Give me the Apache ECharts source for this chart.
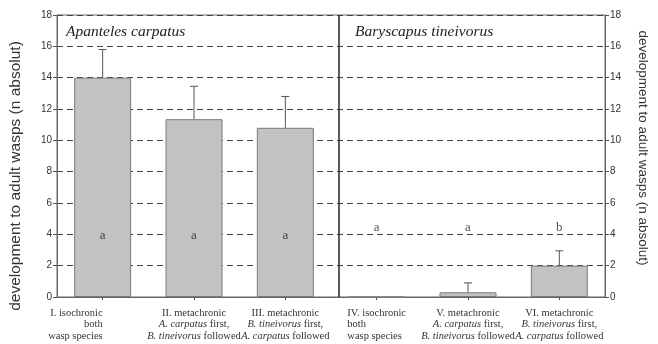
<!DOCTYPE html>
<html><head><meta charset="utf-8">
<script src="https://cdn.jsdelivr.net/npm/echarts@6/dist/echarts.min.js"></script>
<style>html,body{margin:0;padding:0;background:#fff}#c{width:658px;height:344px}</style>
</head><body><div id="c"></div>
<script>
const categories = [
  'I. isochronic\nboth\nwasp species',
  'II. metachronic\nA. carpatus first,\nB. tineivorus followed',
  'III. metachronic\nB. tineivorus first,\nA. carpatus followed',
  'IV. isochronic\nboth\nwasp species',
  'V. metachronic\nA. carpatus first,\nB. tineivorus followed',
  'VI. metachronic\nB. tineivorus first,\nA. carpatus followed'
];
const means = [14.0, 11.35, 10.8, 0, 0.3, 2.0];
const errUp = [1.8, 2.1, 2.0, 0, 0.6, 0.95];
const letters = ['a', 'a', 'a', 'a', 'a', 'b'];
const panelTitles = ['Apanteles carpatus', 'Baryscapus tineivorus'];
const yName = 'development to adult wasps (n absolut)';

const lineAlign = ['r', 'c', 'c', 'l', 'c', 'c'];
const italicRe = /(A\. carpatus|B\. tineivorus)/;
function fmtLabel(value, idx) {
  const a = lineAlign[idx];
  return value.split('\n').map(line =>
    line.split(italicRe).filter(s => s).map(s => {
      const m = s.match(italicRe);
      return (m && m[0] === s) ? '{i' + a + '|' + s + '}' : '{n' + a + '|' + s + '}';
    }).join('')
  ).join('\n');
}
const rich = {};
[['l', 'left'], ['c', 'center'], ['r', 'right']].forEach(([k, al]) => {
  rich['n' + k] = { fontFamily: 'Liberation Serif', fontSize: 10.5, color: '#333', align: al, lineHeight: 11.5 };
  rich['i' + k] = { fontFamily: 'Liberation Serif', fontStyle: 'italic', fontSize: 10.5, color: '#333', align: al, lineHeight: 11.5 };
});

const letterLevel = [3.95, 3.95, 3.95, 4.45, 4.45, 4.45];

const chart = echarts.init(document.getElementById('c'), null, { renderer: 'canvas' });
const axisCommon = {
  type: 'value', min: 0, max: 18, interval: 2,
  axisLine: { show: true, lineStyle: { color: '#666', width: 1 } },
  axisTick: { show: true, length: 4, lineStyle: { color: '#555' } },
  axisLabel: { color: '#333', fontFamily: 'Liberation Sans', fontSize: 10, margin: 5 }
};
const titleStyle = { fontFamily: 'Liberation Serif', fontStyle: 'italic', fontWeight: 'normal', fontSize: 15.5, color: '#222' };
chart.setOption({
  animation: false,
  title: [
    { text: panelTitles[0], left: 61, top: 19, textStyle: titleStyle },
    { text: panelTitles[1], left: 350, top: 19, textStyle: titleStyle }
  ],
  grid: { left: 55, right: 43, top: 15, bottom: 47, show: true, borderColor: '#666', borderWidth: 1, backgroundColor: 'transparent' },
  xAxis: [
    {
      type: 'category', data: categories.map((c, i) => i === 0 ? { value: c, textStyle: { align: 'right' } } : c),
      axisLine: { show: true, lineStyle: { color: '#666' } },
      axisTick: { show: true, alignWithLabel: true, length: 3, lineStyle: { color: '#555' } },
      axisLabel: { interval: 0, margin: 10, formatter: fmtLabel, rich: rich, align: 'center' }
    },
    { type: 'value', min: 0, max: 6, show: false }
  ],
  yAxis: [
    Object.assign({}, axisCommon, {
      position: 'left',
      name: yName, nameLocation: 'middle', nameGap: 33, nameRotate: 90,
      nameTextStyle: { fontFamily: 'Liberation Sans', fontSize: 15.5, color: '#333', padding: [0, 40, 0, 0] },
      splitLine: { show: true, lineStyle: { color: '#444', type: [6, 4], width: 1 } }
    }),
    Object.assign({}, axisCommon, {
      position: 'right',
      name: yName, nameLocation: 'middle', nameGap: 31, nameRotate: -90,
      nameTextStyle: { fontFamily: 'Liberation Sans', fontSize: 13.5, color: '#333', padding: [0, 16, 0, 0] },
      splitLine: { show: false }
    })
  ],
  series: [
    {
      type: 'bar', data: means, barWidth: 57, xAxisIndex: 0, yAxisIndex: 0,
      itemStyle: { color: '#c2c2c2', borderColor: '#7a7a7a', borderWidth: 1 }, z: 3
    },
    {
      type: 'custom', xAxisIndex: 0, yAxisIndex: 0, z: 4,
      data: means.map((m, i) => [i, m, m + errUp[i]]),
      renderItem: function (params, api) {
        const i = api.value(0), lo = api.value(1), hi = api.value(2);
        if (hi - lo <= 0) return null;
        const p0 = api.coord([i, lo]), p1 = api.coord([i, hi]);
        const st = { stroke: '#555', lineWidth: 1 };
        return { type: 'group', children: [
          { type: 'line', shape: { x1: p0[0], y1: p0[1], x2: p1[0], y2: p1[1] }, style: st },
          { type: 'line', shape: { x1: p1[0] - 4, y1: p1[1], x2: p1[0] + 4, y2: p1[1] }, style: st }
        ] };
      }
    },
    {
      type: 'scatter', xAxisIndex: 0, yAxisIndex: 0, symbolSize: 0, z: 5,
      data: letters.map((l, i) => [i, letterLevel[i]]),
      label: { show: true, position: 'inside', formatter: p => letters[p.dataIndex], fontFamily: 'Liberation Serif', fontSize: 13, color: '#222' }
    },
    {
      type: 'line', xAxisIndex: 1, yAxisIndex: 0, data: [], z: 6,
      markLine: { silent: true, symbol: 'none', label: { show: false },
        lineStyle: { color: '#222', type: 'solid', width: 1.5 },
        data: [{ xAxis: 3.085 }] }
    }
  ]
});
</script></body></html>
